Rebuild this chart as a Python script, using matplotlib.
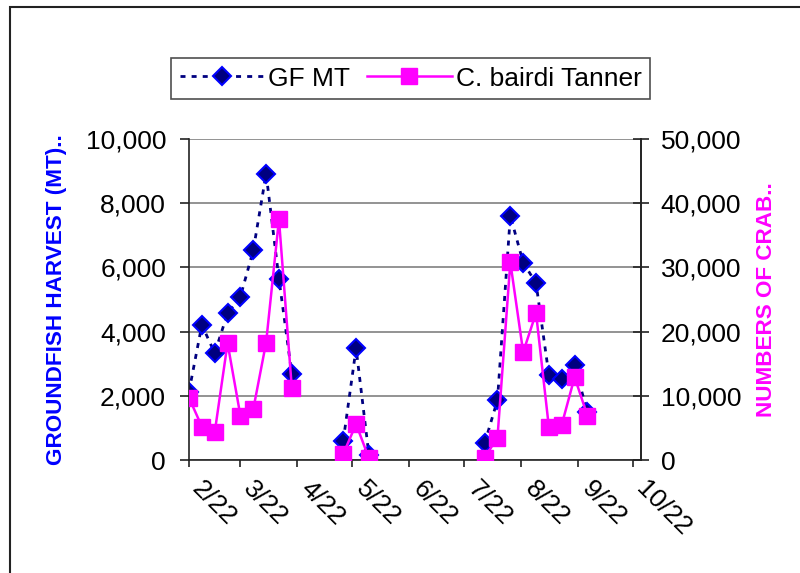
import numpy as np
import pandas as pd
import matplotlib
matplotlib.use("Agg")
import matplotlib.pyplot as plt
import matplotlib.dates as mdates
from matplotlib.ticker import FuncFormatter
from matplotlib.transforms import ScaledTranslation
from matplotlib.patches import Rectangle

plt.rcParams['font.family'] = ['Liberation Sans', 'DejaVu Sans']

# weekly samples, blanks where no fishing
semanas = pd.date_range("2002-02-22", "2002-09-27", freq="7D")
nan = np.nan
gf_mt = [2130, 4210, 3330, 4570, 5090, 6530, 8920, 5640, 2670,
         nan, nan, nan,
         600, 3480, 150,
         nan, nan, nan, nan, nan, nan, nan, nan,
         520, 1870, 7610, 6150, 5510, 2650, 2525, 2960, 1480]
tanner = [9700, 5200, 4300, 18200, 6900, 7900, 18300, 37500, 11200,
          nan, nan, nan,
          940, 5600, 260,
          nan, nan, nan, nan, nan, nan, nan, nan,
          360, 3500, 30800, 16800, 22900, 5100, 5500, 12900, 6900]

etiqueta_izq = "GROUNDFISH HARVEST (MT).."
etiqueta_der = "NUMBERS OF CRAB.."
series = ["GF MT", "C. bairdi Tanner"]

W, H = 800, 573
fig = plt.figure(figsize=(W/100, H/100), dpi=100)
ax = fig.add_axes([189/W, 1-460/H, (640.7-189)/W, (460-139)/H])
ax2 = ax.twinx()

# groundfish en el eje izquierdo
l1, = ax.plot(semanas, gf_mt, linestyle=(0, (1.8, 2.2)), lw=2.0, color='#000080',
              marker='D', ms=9, mfc='#000080', mec='#0000FF', mew=1.5, label=series[0])
# cangrejo en el eje derecho
l2, = ax2.plot(semanas, tanner, color='#FF00FF', lw=1.8,
               marker='s', ms=11, mfc='#FF00FF', mec='#FF00FF', label=series[1])

ax.set_ylim(0, 10000)
ax2.set_ylim(0, 50000)
ax.set_yticks(np.arange(0, 10001, 2000))
ax2.set_yticks(np.arange(0, 50001, 10000))
fmt = FuncFormatter(lambda v, p: f"{int(v):,}")
ax.yaxis.set_major_formatter(fmt)
ax2.yaxis.set_major_formatter(fmt)

ax.set_xlim(pd.Timestamp("2002-02-22"), pd.Timestamp("2002-10-26"))
ax.xaxis.set_major_locator(mdates.MonthLocator(bymonthday=22))
ax.xaxis.set_major_formatter(FuncFormatter(
    lambda v, p: f"{mdates.num2date(v).month}/{mdates.num2date(v).day}"))

ax.grid(axis='y', color='#808080', lw=1.2)
ax.set_axisbelow(True)
for a in (ax, ax2):
    a.spines['top'].set_visible(False)
    for s in a.spines.values():
        s.set_color('#222222')
        s.set_linewidth(1.2)
ax2.spines['left'].set_visible(False)
ax2.spines['bottom'].set_visible(False)

ax.tick_params(axis='y', direction='out', length=6.5, width=1.2, pad=10,
               labelsize=19, color='#222222')
ax2.tick_params(axis='y', direction='inout', length=12, width=1.2, pad=8.5,
                labelsize=19, color='#222222')
ax.tick_params(axis='x', direction='out', length=5, width=1.2, pad=13,
               labelsize=19, color='#222222')
for lbl in ax.get_xticklabels():
    lbl.set_rotation(-45)
    lbl.set_rotation_mode('anchor')
    lbl.set_ha('left')
    lbl.set_va('center')
    lbl.set_transform(lbl.get_transform() + ScaledTranslation(7/100, 0, fig.dpi_scale_trans))

yc = 1 - 299.5/H
fig.text(57/W, yc, etiqueta_izq, rotation=90, ha='center', va='center',
         color='#0000FF', fontsize=16.2, fontweight='bold')
fig.text(767/W, yc, etiqueta_der, rotation=90, ha='center', va='center',
         color='#FF00FF', fontsize=16.2, fontweight='bold')

leg = fig.legend([l1, l2], series, loc='center', bbox_to_anchor=(410.5/W, 1-78.5/H),
                 ncol=2, fontsize=19, frameon=True, fancybox=False, shadow=False,
                 handlelength=3.2, handletextpad=0.15, columnspacing=0.65,
                 borderpad=0.32, borderaxespad=0)
leg.get_frame().set_edgecolor('#222222')
leg.get_frame().set_linewidth(1.2)

# marco exterior del grafico
fig.add_artist(Rectangle((10/W, -0.1), 1.2, 1.1 - 7/H, transform=fig.transFigure,
                         fill=False, edgecolor='#222222', lw=1.5))

fig.savefig("out.png", dpi=100)
